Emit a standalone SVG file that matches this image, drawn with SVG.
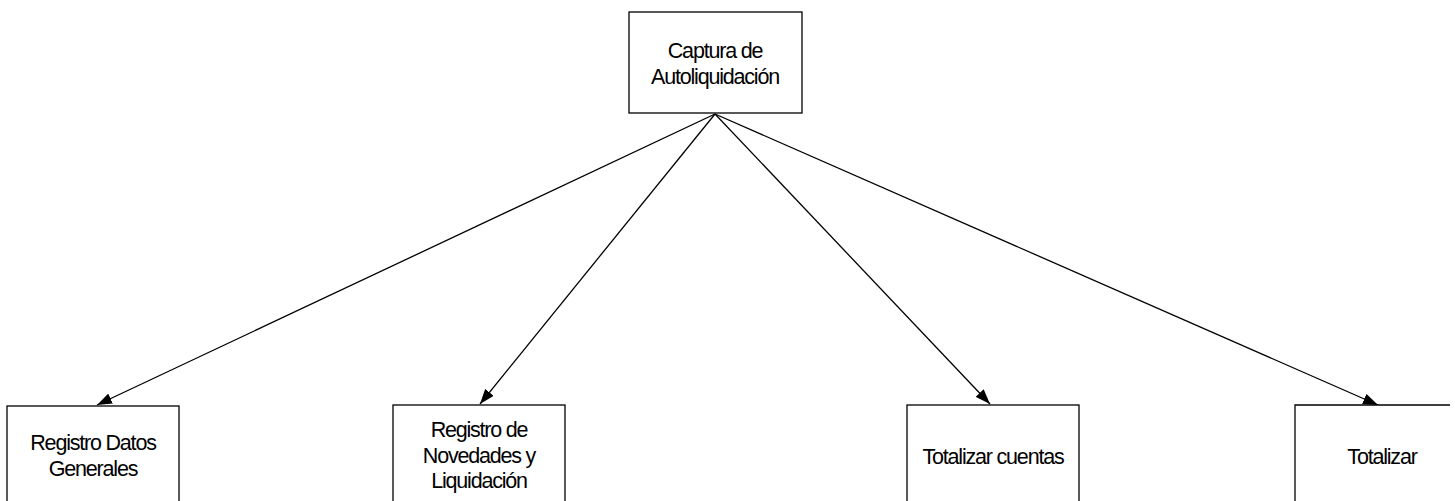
<svg xmlns="http://www.w3.org/2000/svg" width="1455" height="501" viewBox="0 0 1455 501">
  <style>
    .box { fill: #ffffff; stroke: #000000; stroke-width: 1.3; }
    .lbl { font-family: "Liberation Sans", Arial, sans-serif; font-size: 21.5px; letter-spacing: -1.2px; fill: #000000; text-anchor: middle; }
    .edge { fill: none; stroke: #000000; stroke-width: 1.3; marker-end: url(#arrow); }
  </style>
  <defs>
    <marker id="arrow" viewBox="0 0 15 11" refX="15" refY="5.5" markerWidth="15" markerHeight="11" markerUnits="userSpaceOnUse" orient="auto">
      <path d="M0,0 L15,5.5 L0,11 Z" fill="#000000"/>
    </marker>
  </defs>
  <rect width="1455" height="501" fill="#ffffff"/>

  <g id="connectors">
    <line class="edge" x1="715" y1="114" x2="97" y2="405"/>
    <line class="edge" x1="715" y1="114" x2="480" y2="404"/>
    <line class="edge" x1="715" y1="114" x2="990" y2="404"/>
    <line class="edge" x1="715" y1="114" x2="1378" y2="405"/>
  </g>

  <g id="node-captura">
    <rect class="box" x="629" y="12" width="173" height="101"/>
    <text class="lbl" x="715" y="58">Captura de</text>
    <text class="lbl" x="715" y="84">Autoliquidación</text>
  </g>

  <g id="node-registro-datos">
    <rect class="box" x="7" y="406" width="172" height="110"/>
    <text class="lbl" x="93" y="450">Registro Datos</text>
    <text class="lbl" x="93" y="476">Generales</text>
  </g>

  <g id="node-registro-novedades">
    <rect class="box" x="393" y="405" width="172" height="110"/>
    <text class="lbl" x="479" y="437">Registro de</text>
    <text class="lbl" x="479" y="463">Novedades y</text>
    <text class="lbl" x="479" y="488">Liquidación</text>
  </g>

  <g id="node-totalizar-cuentas">
    <rect class="box" x="907" y="405" width="172" height="110"/>
    <text class="lbl" x="993" y="464">Totalizar cuentas</text>
  </g>

  <g id="node-totalizar">
    <path class="box" d="M1450,405 H1295 V515"/>
    <text class="lbl" x="1382" y="464">Totalizar</text>
  </g>
</svg>
